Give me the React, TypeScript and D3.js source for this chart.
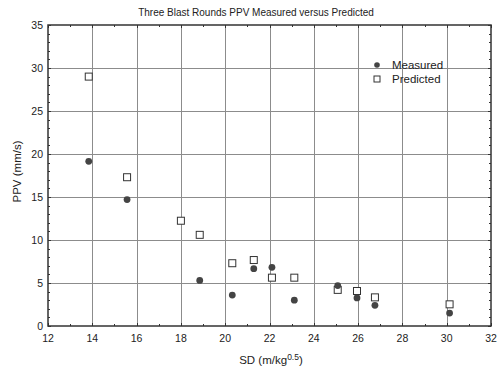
import { useEffect, useRef } from 'react';
import * as d3 from 'd3';

type Point = { sd: number; ppv: number };

const MEASURED_SD = [13.84, 15.57, 18.85, 20.32, 21.29, 22.11, 23.12, 25.08, 25.95, 26.76, 30.13];
const MEASURED_PPV = [19.15, 14.7, 5.3, 3.6, 6.67, 6.82, 3.0, 4.7, 3.26, 2.4, 1.5];

const PREDICTED_SD = [13.84, 15.57, 18.0, 18.85, 20.32, 21.29, 22.11, 23.12, 25.08, 25.95, 26.76, 30.13];
const PREDICTED_PPV = [29.0, 17.3, 12.24, 10.6, 7.3, 7.67, 5.62, 5.62, 4.2, 4.07, 3.33, 2.52];

const X_TICKS = [12, 14, 16, 18, 20, 22, 24, 26, 28, 30, 32];
const Y_TICKS = [0, 5, 10, 15, 20, 25, 30, 35];

const TITLE = 'Three Blast Rounds PPV Measured versus Predicted';
const LEGEND = ['Measured', 'Predicted'];

const toPoints = (xs: number[], ys: number[]): Point[] => xs.map((sd, i) => ({ sd, ppv: ys[i] }));

export default function App() {
  const width = 503;
  const height = 367;
  const margin = { top: 25, right: 12, bottom: 41, left: 48 };
  const font = '"Liberation Sans", Arial, sans-serif';

  const x = d3.scaleLinear().domain([12, 32]).range([margin.left, width - margin.right]);
  const y = d3.scaleLinear().domain([0, 35]).range([height - margin.bottom, margin.top]);

  const measured = toPoints(MEASURED_SD, MEASURED_PPV);
  const predicted = toPoints(PREDICTED_SD, PREDICTED_PPV);

  const minorX = d3.range(12, 32.01, 1);
  const minorY = d3.range(0, 35.01, 1);

  return (
    <svg width={width} height={height} style={{ position: 'absolute', left: 0, top: 0, display: 'block', background: '#fff' }}>
      {/* grid */}
      <g stroke="#8c8c8c" strokeWidth={1}>
        {X_TICKS.slice(1, -1).map((t) => (
          <line key={`gx${t}`} x1={Math.round(x(t)) + 0.5} x2={Math.round(x(t)) + 0.5} y1={y(35)} y2={y(0)} />
        ))}
        {Y_TICKS.slice(1, -1).map((t) => (
          <line key={`gy${t}`} x1={x(12)} x2={x(32)} y1={Math.round(y(t)) + 0.5} y2={Math.round(y(t)) + 0.5} />
        ))}
      </g>

      {/* inward ticks on all four sides */}
      <g stroke="#333" strokeWidth={1}>
        {minorX.map((t) => {
          const len = t % 2 === 0 ? 3 : 2;
          const px = Math.round(x(t)) + 0.5;
          return (
            <g key={`tx${t}`}>
              <line x1={px} x2={px} y1={y(0)} y2={y(0) - len} />
              <line x1={px} x2={px} y1={y(35)} y2={y(35) + len} />
            </g>
          );
        })}
        {minorY.map((t) => {
          const len = t % 5 === 0 ? 3 : 2;
          const py = Math.round(y(t)) + 0.5;
          return (
            <g key={`ty${t}`}>
              <line x1={x(12)} x2={x(12) + len} y1={py} y2={py} />
              <line x1={x(32)} x2={x(32) - len} y1={py} y2={py} />
            </g>
          );
        })}
      </g>

      <rect
        x={x(12)}
        y={y(35)}
        width={x(32) - x(12)}
        height={y(0) - y(35)}
        fill="none"
        stroke="#333"
        strokeWidth={1.5}
      />

      {/* tick labels */}
      <g fontFamily={font} fontSize={10.5} fill="#222">
        {X_TICKS.map((t) => (
          <text key={`lx${t}`} x={x(t)} y={y(0) + 16} textAnchor="middle">
            {t}
          </text>
        ))}
        {Y_TICKS.map((t) => (
          <text key={`ly${t}`} x={x(12) - 5} y={y(t) + 3.5} textAnchor="end">
            {t}
          </text>
        ))}
      </g>

      <text x={256} y={16} textAnchor="middle" fontFamily={font} fontSize={10} fill="#222">
        {TITLE}
      </text>

      <text x={271} y={364} textAnchor="middle" fontFamily={font} fontSize={11.5} fill="#222">
        <tspan>SD (m/kg</tspan>
        <tspan dy={-4} fontSize={8.5}>
          0.5
        </tspan>
        <tspan dy={4}>)</tspan>
      </text>

      <text
        transform={`translate(21, ${(y(0) + y(35)) / 2 - 4}) rotate(-90)`}
        textAnchor="middle"
        fontFamily={font}
        fontSize={11.5}
        fill="#222"
      >
        PPV (mm/s)
      </text>

      {/* marks */}
      <g fill="#fff" stroke="#333" strokeWidth={1}>
        {predicted.map((d, i) => (
          <rect key={`p${i}`} x={x(d.sd) - 3.5} y={y(d.ppv) - 3.5} width={7} height={7} />
        ))}
      </g>
      <g fill="#444">
        {measured.map((d, i) => (
          <circle key={`m${i}`} cx={x(d.sd)} cy={y(d.ppv)} r={3.4} />
        ))}
      </g>

      {/* legend */}
      <g transform="translate(377, 65)">
        <circle cx={0} cy={0} r={2.8} fill="#444" />
        <rect x={-3} y={11} width={6} height={6} fill="#fff" stroke="#333" />
        {LEGEND.map((label, i) => (
          <text key={label} x={15} y={4 + i * 14} fontFamily={font} fontSize={11.5} fill="#222">
            {label}
          </text>
        ))}
      </g>
    </svg>
  );
}
